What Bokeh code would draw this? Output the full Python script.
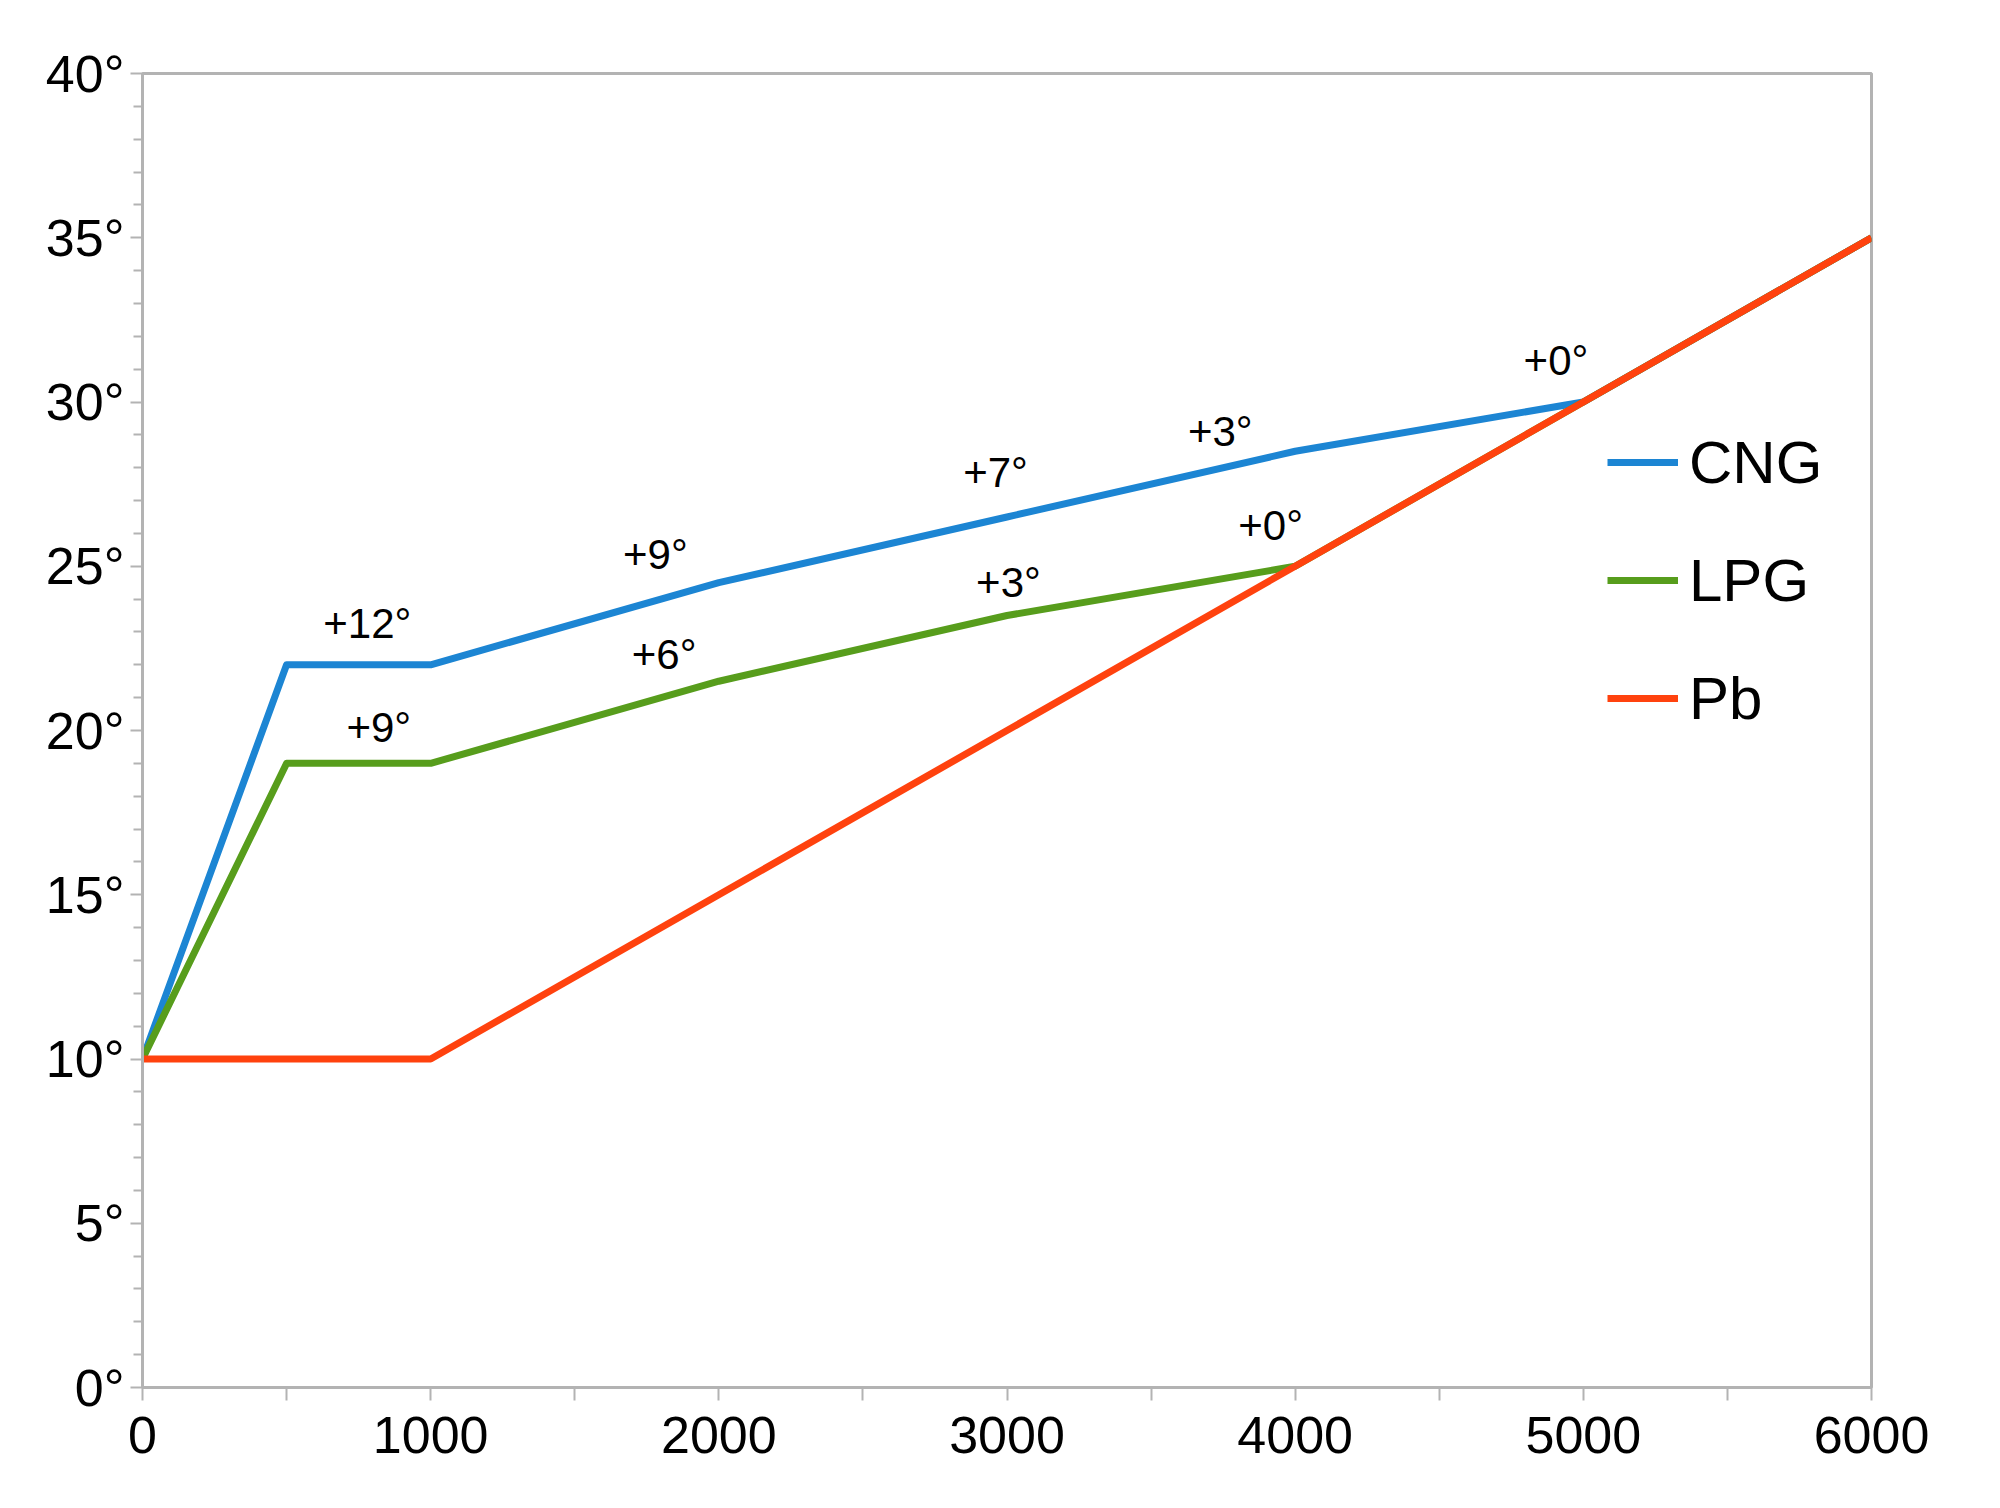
from bokeh.plotting import figure
from bokeh.models import Range1d, FixedTicker, Legend, LegendItem, ColumnDataSource
from bokeh.embed import file_html
from bokeh.resources import INLINE
from bokeh.core.properties import value

# ---- data ----
rpm = [0, 500, 1000, 2000, 3000, 4000, 5000, 6000]
cng = [10, 22, 22, 24.5, 26.5, 28.5, 30, 35]
lpg = [10, 19, 19, 21.5, 23.5, 25, 30, 35]
pb = [10, 10, 10, 15, 20, 25, 30, 35]

series_names = ["CNG", "LPG", "Pb"]
series_colors = ["#1c85d3", "#579d1c", "#ff420e"]

x_ticks = [0, 1000, 2000, 3000, 4000, 5000, 6000]
x_minor = [500, 1500, 2500, 3500, 4500, 5500]
y_ticks = [0, 5, 10, 15, 20, 25, 30, 35, 40]
y_minor = [v for v in range(0, 41) if v % 5 != 0]
y_labels = {v: f"{v}°" for v in y_ticks}

ann_text = ["+12°", "+9°", "+6°", "+9°", "+7°", "+3°", "+0°", "+3°", "+0°"]
ann_x = [780, 820, 1810, 1780, 2960, 3740, 3915, 3005, 4905]
ann_y = [23.25, 20.1, 22.3, 25.35, 27.85, 29.1, 26.25, 24.5, 31.25]

FONT = "Liberation Sans"
GRAY = "#b3b3b3"

p = figure(width=1984, height=1492, output_backend="svg", toolbar_location=None,
           x_range=Range1d(0, 6000), y_range=Range1d(0, 40),
           min_border_left=142, min_border_right=113,
           min_border_top=73, min_border_bottom=105)

p.background_fill_color = "white"
p.border_fill_color = "white"
p.outline_line_color = GRAY
p.outline_line_width = 3
p.xgrid.visible = False
p.ygrid.visible = False

for ax in (p.xaxis[0], p.yaxis[0]):
    ax.axis_line_color = GRAY
    ax.axis_line_width = 3
    ax.major_tick_line_color = GRAY
    ax.minor_tick_line_color = GRAY
    ax.major_tick_line_width = 2
    ax.minor_tick_line_width = 2
    ax.major_tick_in = 0
    ax.minor_tick_in = 0
    ax.major_label_text_font = FONT
    ax.major_label_text_font_size = "52px"
    ax.major_label_text_color = "black"

p.xaxis.ticker = FixedTicker(ticks=x_ticks, minor_ticks=x_minor)
p.xaxis.major_tick_out = 13
p.xaxis.minor_tick_out = 13
p.xaxis.major_label_standoff = 16

p.yaxis.ticker = FixedTicker(ticks=y_ticks, minor_ticks=y_minor)
p.yaxis.major_label_overrides = y_labels
p.yaxis.major_tick_out = 12
p.yaxis.minor_tick_out = 9
p.yaxis.major_label_standoff = 6

renderers = []
for name, ys, col in zip(series_names, [cng, lpg, pb], series_colors):
    r = p.line(rpm, ys, line_color=col, line_width=7, line_join="round")
    renderers.append(r)

src = ColumnDataSource(dict(x=ann_x, y=ann_y, t=ann_text))
p.text(x="x", y="y", text="t", source=src, text_font=value(FONT),
       text_font_size="42px", text_color="black", text_align="center",
       text_baseline="alphabetic")

legend = Legend(items=[LegendItem(label=n, renderers=[r]) for n, r in zip(series_names, renderers)],
                location=(1465, 654))
legend.label_text_font = FONT
legend.label_text_font_size = "60px"
legend.label_text_color = "black"
legend.glyph_width = 71
legend.glyph_height = 70
legend.label_height = 70
legend.label_standoff = 11
legend.spacing = 48
legend.padding = 0
legend.margin = 0
legend.border_line_color = None
legend.background_fill_alpha = 0
p.add_layout(legend, "center")

open("out.html", "w").write(file_html(p, INLINE))
